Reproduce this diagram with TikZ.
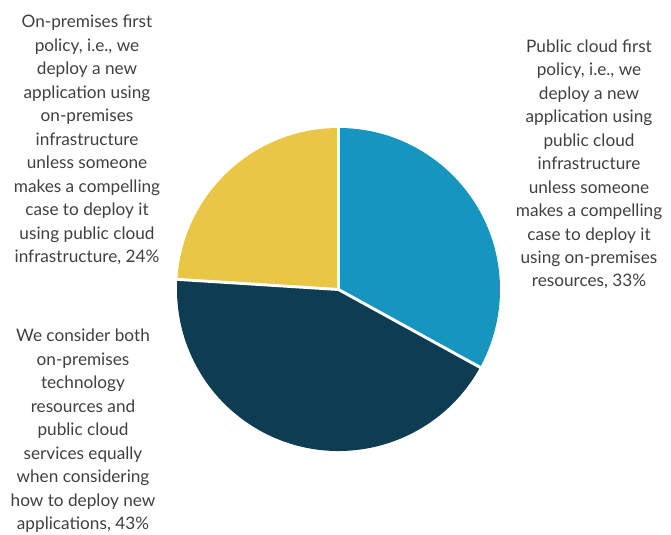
\documentclass[tikz,border=0pt]{standalone}
\usepackage{fontspec}
\setmainfont{Lato}
\definecolor{pieblue}{RGB}{22,150,190}
\definecolor{piedark}{RGB}{14,60,82}
\definecolor{pieyellow}{RGB}{233,198,69}
\definecolor{labelgray}{RGB}{64,64,64}
\begin{document}
\begin{tikzpicture}[x=0.75pt,y=0.75pt,
  slice/.style={draw=white,line width=2.2pt,line join=round},
  lbl/.style={align=center,inner sep=0pt,text=labelgray,anchor=base,
    font=\fontsize{12.9}{17.6}\selectfont}]
\useasboundingbox (0,0) rectangle (671,535);
\coordinate (c) at (338.5,245.5);
\def\R{161.5}
\fill[pieblue] (c) -- ++(90:\R) arc[start angle=90,end angle=-28.8,radius=\R] -- cycle;
\fill[piedark] (c) -- ++(-28.8:\R) arc[start angle=-28.8,end angle=-183.6,radius=\R] -- cycle;
\fill[pieyellow] (c) -- ++(176.4:\R) arc[start angle=176.4,end angle=90,radius=\R] -- cycle;
\draw[slice] (c) -- ++(90:\R+3);
\draw[slice] (c) -- ++(-28.8:\R+3);
\draw[slice] (c) -- ++(176.4:\R+3);
\node[lbl] (onprem) at (87,272.4) {On-premises first\\policy, i.e., we\\deploy a new\\application using\\on-premises\\infrastructure\\unless someone\\makes a compelling\\case to deploy it\\using public cloud\\infrastructure, 24\%};
\node[lbl] (cloud) at (589,248) {Public cloud first\\policy, i.e., we\\deploy a new\\application using\\public cloud\\infrastructure\\unless someone\\makes a compelling\\case to deploy it\\using on-premises\\resources, 33\%};
\node[lbl] (both) at (83,5.5) {We consider both\\on-premises\\technology\\resources and\\public cloud\\services equally\\when considering\\how to deploy new\\applications, 43\%};
\end{tikzpicture}
\end{document}
